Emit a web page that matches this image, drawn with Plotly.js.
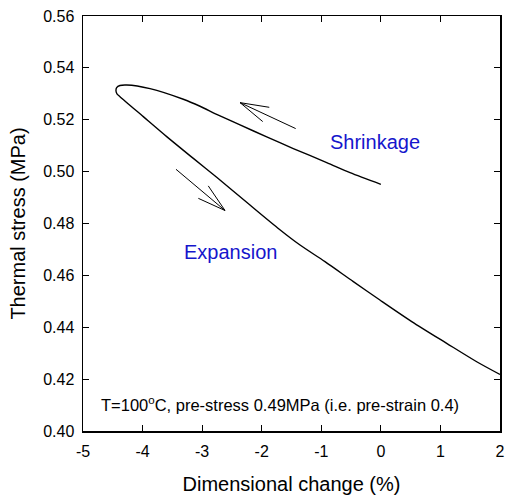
<!DOCTYPE html>
<html>
<head>
<meta charset="utf-8">
<script src="https://cdn.plot.ly/plotly-3.0.1.min.js"></script>
<style>html,body{margin:0;padding:0;background:#fff;}#chart{width:506px;height:496px;}</style>
</head>
<body>
<div id="chart"></div>
<script>
// Shrinkage branch (from 0% going left to the tip), then expansion branch (tip to right)
var shrinkX = [0.0, -0.518, -0.909, -1.470, -1.916, -2.364, -2.756, -3.036, -3.316, -3.875, -4.266, -4.38, -4.435, -4.446];
var shrinkY = [0.4951, 0.4996, 0.5035, 0.5089, 0.5134, 0.5180, 0.5221, 0.5252, 0.5279, 0.5320, 0.5334, 0.5332, 0.5324, 0.5311];
var expandX = [-4.43, -4.379, -3.988, -3.595, -3.148, -2.756, -2.197, -1.700, -1.357, -0.938, -0.462, -0.016, 0.518, 1.105, 1.609, 2.0];
var expandY = [0.5300, 0.5289, 0.5212, 0.5135, 0.5051, 0.4978, 0.4871, 0.4777, 0.4717, 0.4653, 0.4576, 0.4505, 0.4422, 0.4338, 0.4267, 0.4218];
var xTicks = [-5, -4, -3, -2, -1, 0, 1, 2];
var yTicks = [0.40, 0.42, 0.44, 0.46, 0.48, 0.50, 0.52, 0.54, 0.56];

var xs = shrinkX.concat(expandX);
var ys = shrinkY.concat(expandY);

var FONT = 'Liberation Sans, Arial, sans-serif';
var BLUE = '#1515cc';

var trace = {
  x: xs, y: ys, type: 'scatter', mode: 'lines',
  line: {color: '#000', width: 1.4, shape: 'spline', smoothing: 0.8},
  hoverinfo: 'none', showlegend: false
};

function seg(x0, y0, x1, y1) {
  return {type: 'line', xref: 'x', yref: 'y', x0: x0, y0: y0, x1: x1, y1: y1,
          line: {color: '#000', width: 1}};
}

var shapes = [
  // shrinkage arrow
  seg(-1.430, 0.5166, -2.364, 0.5266),
  seg(-2.364, 0.5266, -1.873, 0.5248),
  seg(-2.364, 0.5266, -1.983, 0.5193),
  // expansion arrow
  seg(-3.439, 0.5009, -2.616, 0.4850),
  seg(-2.616, 0.4850, -3.064, 0.4897),
  seg(-2.616, 0.4850, -2.897, 0.4945)
];

var layout = {
  width: 506, height: 496,
  margin: {l: 83, r: 6, t: 16, b: 65},
  paper_bgcolor: '#fff', plot_bgcolor: '#fff',
  font: {family: FONT, color: '#000', size: 16},
  xaxis: {
    range: [-5, 2], tickvals: xTicks, ticktext: xTicks.map(String),
    ticks: 'inside', ticklen: 6, tickwidth: 1, tickcolor: '#000',
    showline: true, linecolor: '#000', linewidth: 1.5, mirror: 'ticks',
    showgrid: false, zeroline: false,
    tickfont: {family: FONT, size: 16, color: '#000'},
    ticklabelstandoff: 5,
    title: {text: 'Dimensional change (%)', font: {family: FONT, size: 20, color: '#000'}, standoff: 18}
  },
  yaxis: {
    range: [0.40, 0.56], tickvals: yTicks, ticktext: yTicks.map(function(v){return v.toFixed(2);}),
    ticks: 'inside', ticklen: 6, tickwidth: 1, tickcolor: '#000',
    showline: true, linecolor: '#000', linewidth: 1.5, mirror: 'ticks',
    showgrid: false, zeroline: false,
    tickfont: {family: FONT, size: 16, color: '#000'},
    ticklabelstandoff: 4,
    title: {text: 'Thermal stress (MPa)', font: {family: FONT, size: 20, color: '#000'}, standoff: 12}
  },
  shapes: shapes,
  annotations: [
    {x: -0.098, y: 0.5115, xref: 'x', yref: 'y', text: 'Shrinkage', showarrow: false,
     font: {family: FONT, size: 20, color: BLUE}},
    {x: -2.516, y: 0.4691, xref: 'x', yref: 'y', text: 'Expansion', showarrow: false,
     font: {family: FONT, size: 20, color: BLUE}},
    {x: (99 - 83) / 417, y: (431 - 404) / 415, xref: 'paper', yref: 'paper',
     text: 'T=100<sup>o</sup>C, pre-stress 0.49MPa (i.e. pre-strain 0.4)',
     showarrow: false, xanchor: 'left', yanchor: 'middle',
     font: {family: FONT, size: 16.5, color: '#000'}}
  ]
};

Plotly.newPlot('chart', [trace], layout, {staticPlot: true, displayModeBar: false});
</script>
</body>
</html>
